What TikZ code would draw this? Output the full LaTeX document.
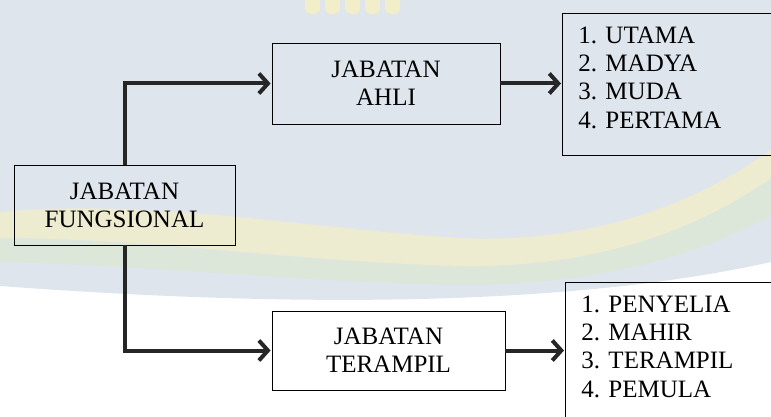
\documentclass[tikz,border=0pt]{standalone}
\usepackage{fontspec}
\setmainfont{Liberation Serif}
\usetikzlibrary{arrows.meta}
\definecolor{wmblue}{HTML}{DEE5ED}
\definecolor{wmyellow}{HTML}{F1EEC9}
\definecolor{wmgreen}{HTML}{DCE8D6}
\newcommand{\listgap}{\rule[-14pt]{0pt}{14pt}}

\begin{document}
\begin{tikzpicture}[x=1pt, y=-1pt,
                    box/.style={draw, line width=0.8pt, align=center, minimum height=80pt, inner sep=0pt, font=\fontsize{25}{28}\selectfont},
                    listbox/.style={draw, line width=0.8pt, align=flush left, text width=178pt, minimum height=142pt, inner xsep=16pt, font=\fontsize{25}{28.3}\selectfont},
                    conn/.style={line width=4pt, color=black!85, shorten >=1pt, -{Straight Barb[length=9pt,width=20pt]}}]
                    \useasboundingbox (0,0) rectangle (771,417);
                    \clip (0,0) rectangle (771,417);
                    % background of the page
                    \fill[wmblue] (0,0) -- (771,0) -- (771,262) .. controls (600,300) and (350,312) .. (0,286) -- cycle;
                    \fill[wmgreen, opacity=0.8] (0,238) .. controls (150,240) and (300,262) .. (460,266) .. controls (600,268) and (700,228) .. (771,178) -- (771,215) .. controls (700,255) and (600,285) .. (460,285) .. controls (300,282) and (150,265) .. (0,262) -- cycle;
                    \fill[wmyellow, opacity=0.8] (0,212) .. controls (150,198) and (300,228) .. (460,238) .. controls (600,244) and (700,200) .. (771,150) -- (771,178) .. controls (700,228) and (600,268) .. (460,266) .. controls (300,262) and (150,238) .. (0,238) -- cycle;
                    \foreach \x in {305,325,345,365,385}
                        \fill[wmyellow, rounded corners=6pt] (\x,-10) rectangle +(15,24);
                    % boxes
                    \node[box, minimum width=221pt] (fung) at (124.5,205) {JABATAN\\FUNGSIONAL};
                    \node[box, minimum width=228pt, minimum height=81pt] (ahli) at (386,83.5) {JABATAN\\AHLI};
                    \node[box, minimum width=233pt, minimum height=79pt] (terampil) at (388.5,350.5) {JABATAN\\TERAMPIL};
                    \node[listbox, anchor=north west] (ahlilist) at (562,13) {1. UTAMA\\2. MADYA\\3. MUDA\\4. PERTAMA\listgap};
                    \node[listbox, anchor=north west] (terampillist) at (565,282) {1. PENYELIA\\2. MAHIR\\3. TERAMPIL\\4. PEMULA\listgap};
                    % arrows
                    \draw[conn] (fung.north) |- (ahli.west);
                    \draw[conn] (fung.south) |- (terampil.west);
                    \draw[conn] (ahli.east) -- (ahlilist.west |- ahli.east);
                    \draw[conn] (terampil.east) -- (terampillist.west |- terampil.east);
                \end{tikzpicture}
\end{document}
